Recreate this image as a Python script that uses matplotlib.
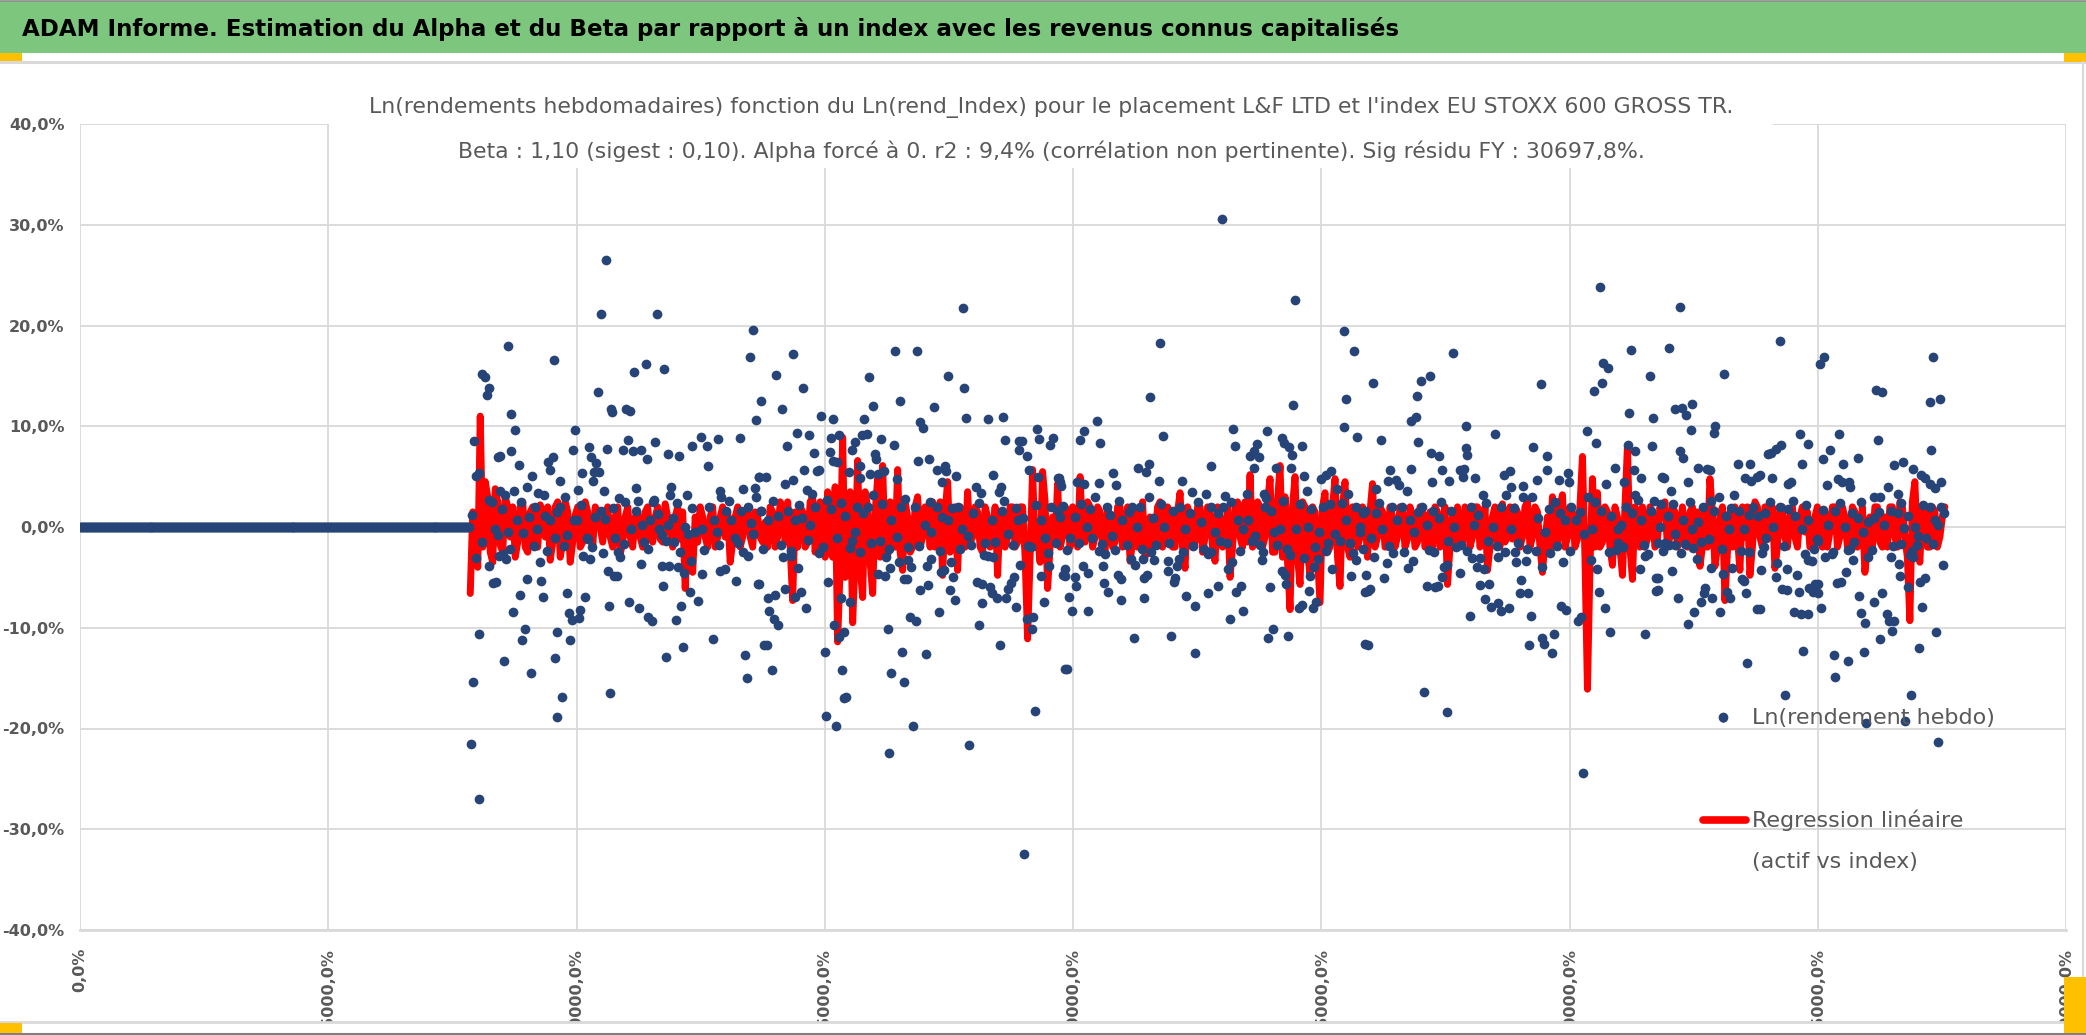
import numpy as np
import matplotlib
matplotlib.use("Agg")
import matplotlib.pyplot as plt
from matplotlib.lines import Line2D
from matplotlib.patches import Rectangle

plt.rcParams['font.family'] = ['Liberation Sans Narrow', 'DejaVu Sans Condensed', 'DejaVu Sans']

# ---------------- data ----------------
title_main = "ADAM Informe. Estimation du Alpha et du Beta par rapport à un index avec les revenus connus capitalisés"
subtitle_1 = "Ln(rendements hebdomadaires) fonction du Ln(rend_Index) pour le placement L&F LTD et l'index EU STOXX 600 GROSS TR."
subtitle_2 = "Beta : 1,10 (sigest : 0,10). Alpha forcé à 0. r2 : 9,4% (corrélation non pertinente). Sig résidu FY : 30697,8%."
legend_scatter = "Ln(rendement hebdo)"
legend_line = ["Regression linéaire", "(actif vs index)"]

# weeks before the listing: returns are zero
zero_weeks = list(range(0, 393))
zero_values = [0.0] * len(zero_weeks)

# weekly ln returns (%) : (week, value)
pts_a = [(530,26.5),(525,21.1),(581,21.1),(431,18.0),(477,16.6),(405,15.2),(408,14.9),(412,13.8),(410,13.1),
         (558,15.4),(570,16.2),(588,15.7),(678,19.6),(675,16.9),(686,12.5),(681,10.6),(522,13.4),(535,11.7),
         (536,11.4),(550,11.7),(554,11.5),(434,11.2),(438,9.6),(498,9.6),(397,8.5),(423,7.0),(421,6.9),(434,7.5),
         (442,6.2),(455,5.1),(471,6.5),(476,6.9),(473,5.7),(483,4.6),(496,7.6),(506,5.4),(513,7.9),(515,6.9),
         (520,6.4),(523,5.5),(518,5.5),(517,4.6),(531,7.7),(528,3.6),(552,8.6),(547,7.6),(557,7.5),(565,7.6),
         (571,6.7),(579,8.4),(592,7.2),(603,7.0),(616,8.0),(625,8.9),(631,8.0),(632,6.1),(643,8.7),(665,8.8),
         (684,5.0),(399,5.1),(402,5.4),(423,3.6),(428,3.2),(437,3.6),(450,4.0),(461,3.4),(467,3.2),(488,3.0),
         (502,3.7),(560,3.9),(578,2.7),(595,4.0),(594,3.2),(611,3.2),(645,3.6),(668,3.8),(680,3.9),
         (399,-3.1),(412,-3.9),(416,-5.6),(419,-5.5),(422,-2.9),(426,-2.7),(429,-3.2),(450,-5.2),(443,-6.7),
         (464,-5.4),(466,-6.9),(463,-3.5),(436,-8.4),(448,-10.1),(445,-11.2),(402,-10.6),(427,-13.3),(454,-14.5),
         (396,-15.4),(394,-21.5),(402,-27.0),(480,-10.4),(478,-13.0),(485,-16.9),(480,-18.9),(490,-6.6),(492,-8.5),
         (495,-9.2),(493,-11.2),(504,-8.2),(503,-9.0),(509,-6.9),(507,-2.9),(514,-3.2),(512,-1.2),(487,-1.9),
         (533,-7.8),(534,-16.5),(532,-4.4),(538,-4.9),(541,-4.9),(542,-2.5),(544,-3.0),(553,-7.4),(563,-8.0),
         (572,-8.9),(576,-9.3),(565,-3.7),(568,-1.5),(586,-3.9),(593,-3.9),(587,-5.9),(598,-1.5),(602,-4.0),
         (608,-4.6),(604,-2.5),(600,-9.2),(605,-7.8),(607,-11.9),(590,-12.9),(614,-6.5),(622,-7.3),(626,-4.7),
         (615,-3.4),(637,-11.1),(645,-4.4),(650,-4.2),(661,-5.4),(670,-12.7),(672,-15.0),(673,-2.9),(683,-5.7),
         (689,-11.7),
         (412,2.7),(415,2.5),(418,-0.2),(421,-0.8),(431,-0.5),(440,0.7),(446,-0.6),(452,1.0),(458,2.0),(460,-0.2),
         (468,1.1),(473,0.7),(478,-1.1),(483,2.0),(497,0.7),(500,0.7),(511,-1.1),(519,1.0),(525,1.6),(529,0.8),
         (539,-1.1),(543,2.9),(549,2.5),(555,-0.2),(560,1.6),(566,0.2),(574,0.7),(577,2.5),(583,-0.2),(586,-0.8),
         (592,0.2),(597,0.9),(609,0.0),(612,-0.7),(619,-0.5),(626,-0.2),(633,2.0),(638,0.7),(641,-0.5),(646,3.0),
         (651,1.6),(656,0.7),(660,-1.1),(663,-1.6),(666,1.6),(673,2.0),(678,-0.7),(681,3.0),(686,1.6),
         (395,1.2),(405,-1.5),(425,1.8),(433,-2.2),(444,2.5),(457,-1.9),(470,-2.4),(480,1.5),(490,-0.8),(505,2.2),
         (516,-2.0),(527,-2.6),(537,1.9),(548,-1.7),(562,2.6),(572,-2.2),(582,1.3),(590,-1.4),(601,2.4),(616,1.9),
         (628,-2.3),(644,-1.8),(654,2.6),(668,-2.5),(676,0.4),(688,-2.2)]

pts_b = [(889,21.7),(718,17.2),(821,17.5),(843,17.5),(701,15.1),(728,13.8),(795,14.9),(874,15.0),(890,13.8),
         (707,11.7),(826,12.5),(799,12.0),(860,11.9),(746,11.0),(758,10.7),(790,10.7),(846,10.4),(849,9.8),
         (892,10.8),(914,10.7),(930,10.9),(722,9.3),(734,9.1),(756,8.8),(764,9.1),(788,9.1),(793,9.2),(807,8.7),
         (820,8.1),(712,8.0),(739,7.3),(755,7.4),(758,6.6),(762,6.5),(777,7.6),(780,8.4),(801,7.2),(802,6.7),
         (844,6.6),(855,6.7),(863,5.7),(871,6.1),(872,5.6),(882,5.1),(932,8.6),(946,8.5),(949,8.5),(946,7.6),
         (954,7.0),(956,5.7),(964,9.7),(966,8.7),(977,8.1),(980,8.8),(729,5.7),(742,5.6),(744,5.7),(684,5.0),
         (691,5.0),(710,4.3),(718,4.7),(732,3.7),(737,3.3),(774,5.5),(785,6.1),(785,4.9),(796,5.3),(804,5.3),
         (810,5.6),(823,4.8),(868,4.5),(919,5.2),(927,4.0),(925,3.5),(902,4.0),(907,3.4),(965,5.0),(985,4.9),
         (987,4.5),
         (684,-5.7),(693,-7.0),(700,-6.7),(694,-8.3),(699,-9.1),(703,-9.7),(692,-11.7),(697,-14.2),(710,-6.2),
         (720,-6.9),(726,-6.5),(731,-8.0),(723,-4.1),(708,-3.0),(716,-2.9),(753,-5.5),(750,-12.4),(759,-9.7),
         (764,-10.9),(769,-10.4),(767,-14.2),(769,-17.0),(771,-16.9),(751,-18.8),(761,-19.8),(766,-7.0),
         (775,-7.4),(780,-0.5),(777,-1.4),(806,-1.4),(804,-4.7),(811,-4.9),(816,-4.1),(812,-3.0),(814,-10.1),
         (817,-14.5),(828,-12.4),(830,-15.4),(825,-3.5),(834,-3.3),(837,-4.0),(833,-5.2),(830,-5.2),(836,-8.9),
         (842,-9.3),(839,-19.8),(815,-22.4),(846,-6.3),(852,-12.6),(854,-5.8),(853,-3.9),(857,-3.2),(865,-8.4),
         (867,-4.5),(870,-4.3),(876,-6.3),(881,-7.2),(879,-5.0),(877,-3.5),(895,-21.6),(905,-9.7),(903,-5.5),
         (908,-5.7),(908,-7.5),(916,-6.0),(918,-6.6),(923,-7.0),(926,-11.7),(933,-7.0),(935,-6.2),(938,-5.6),
         (941,-5.0),(943,-7.9),(947,-3.8),(910,-2.8),(914,-2.9),(919,-3.0),(951,-32.5),(954,-9.1),(960,-8.9),
         (959,-10.1),(962,-18.3),(968,-4.9),(971,-7.4),(976,-3.9),(990,-4.8),(992,-14.1),
         (686,1.6),(693,0.7),(703,1.1),(713,1.6),(720,0.7),(727,0.9),(735,0.2),(740,2.0),(748,-2.0),(752,2.7),
         (762,-1.1),(770,1.1),(782,2.0),(789,1.4),(794,2.0),(799,3.2),(817,0.7),(827,2.0),(834,-2.0),(841,2.0),
         (851,0.2),(857,-0.5),(863,2.0),(868,1.0),(874,0.7),(884,2.0),(888,-0.2),(894,-0.9),(899,1.4),(911,-1.6),
         (918,0.7),(928,1.6),(935,-0.7),(940,-1.8),(945,0.7),(950,0.9),(958,-2.0),(968,0.7),(972,-1.1),(978,2.0),
         (983,-1.6),(987,1.0),
         (698,2.6),(706,-1.8),(716,-2.4),(724,2.2),(733,-1.3),(744,-2.6),(756,1.8),(766,2.4),(775,-2.1),(786,-2.5),
         (797,-1.6),(808,2.3),(815,-2.2),(823,-1.0),(831,2.8),(845,-1.9),(856,2.5),(866,-2.4),(878,1.9),(886,-2.2),
         (897,-1.8),(905,2.4),(921,-1.5),(931,2.6),(943,1.9),(955,-1.9),(963,2.2),(975,-2.6),(990,2.1)]

pts_c = [(1150,30.6),(1224,22.5),(1088,18.3),(1078,12.9),(1222,12.1),(1273,19.5),(1283,17.5),(1275,12.7),
         (1273,9.9),(1286,8.9),(1024,10.5),(1011,9.5),(1007,8.6),(1027,8.3),(1091,9.0),(1161,9.7),(1163,8.0),
         (1195,9.5),(1210,8.8),(1212,8.3),(1218,7.9),(1221,7.1),(1231,8.0),(1178,7.0),(1182,7.5),(1185,8.2),
         (1187,6.9),(1139,6.1),(1065,5.9),(1074,5.5),(1077,6.3),(1182,5.9),(1204,5.9),(1220,5.9),(1233,5.1),
         (1236,3.6),(1250,4.8),(1255,5.2),(1260,5.6),(1040,5.4),(1043,4.2),(1026,4.4),(1004,4.5),(1011,4.3),
         (986,4.9),(988,4.1),(1087,4.6),(1110,4.6),(1120,3.5),(1134,3.3),(1153,3.1),(1175,3.3),(1192,3.3),
         (1194,2.9),(1266,3.8),(1277,3.3),
         (994,-14.1),(999,-8.3),(1015,-8.3),(996,-6.9),(1003,-5.9),(1002,-5.0),(992,-4.9),(992,-4.2),(1015,-4.6),
         (1010,-3.9),(1030,-3.9),(1032,-2.7),(1035,-6.5),(1031,-5.6),(1045,-4.8),(1048,-5.2),(1048,-7.2),
         (1061,-11.0),(1058,-3.2),(1062,-3.8),(1071,-7.0),(1072,-5.1),(1075,-4.8),(1070,-3.2),(1082,-3.3),
         (1096,-4.4),(1096,-3.4),(1102,-5.5),(1103,-5.1),(1099,-10.8),(1105,-3.9),(1107,-3.2),(1114,-6.8),
         (1123,-12.5),(1123,-7.8),(1136,-6.6),(1146,-5.9),(1158,-9.1),(1156,-4.2),(1160,-3.5),(1136,-2.7),
         (1139,-2.5),(1164,-6.5),(1169,-5.9),(1171,-8.3),(1190,-3.3),(1196,-11.0),(1201,-10.1),(1198,-6.0),
         (1217,-10.8),(1210,-4.4),(1213,-4.8),(1215,-5.7),(1219,-2.8),(1228,-8.0),(1231,-7.7),(1233,-3.1),
         (1238,-6.4),(1239,-4.9),(1242,-8.0),(1245,-7.4),(1243,-4.0),(1247,-3.2),(1255,-2.4),(1261,-4.2),
         (1280,-4.9),(1285,-3.3),(1294,-6.5),(1294,-11.6),
         (985,1.6),(997,-1.1),(1002,1.0),(1006,-1.6),(1014,0.0),(1019,-1.1),(1022,3.0),(1029,-1.7),(1034,2.0),
         (1039,-0.9),(1042,-2.3),(1049,0.7),(1054,-1.8),(1059,2.0),(1064,0.0),(1067,2.0),(1077,3.0),(1081,0.9),
         (1084,-1.8),(1092,0.0),(1097,-1.6),(1108,2.0),(1113,-0.2),(1118,1.4),(1126,2.5),(1129,0.5),(1139,2.0),
         (1143,-0.5),(1148,-1.4),(1151,2.0),(1155,-1.6),(1166,0.7),(1171,-0.2),(1176,0.7),(1183,-0.9),(1188,-1.8),
         (1193,2.0),(1202,-0.5),(1205,-1.8),(1208,-0.2),(1225,-0.2),(1237,0.0),(1240,1.8),(1248,-0.5),(1252,2.0),
         (1259,2.3),(1264,-0.7),(1269,-1.4),(1275,0.7),(1279,-1.6),(1285,2.0),(1289,-0.5),
         (994,-2.3),(1008,2.3),(1017,1.8),(1026,-2.4),(1037,1.2),(1046,2.6),(1056,1.5),(1069,-2.2),(1079,-2.5),
         (1089,2.3),(1101,1.6),(1111,-2.5),(1121,-1.9),(1132,-2.2),(1146,1.4),(1159,2.5),(1168,-2.4),(1180,-1.4),
         (1191,-2.5),(1199,1.6),(1211,2.6),(1216,-2.2),(1229,2.3),(1244,-2.0),(1257,-1.6),(1271,2.4),(1282,-2.6),
         (1292,1.4)]

pts_d = [(1531,23.8),(1383,17.3),(1302,14.3),(1346,13.0),(1350,14.5),(1360,15.0),(1340,10.5),(1345,10.9),
         (1471,14.2),(1525,13.5),(1533,14.3),(1534,16.3),(1539,15.8),(1562,17.6),(1581,15.0),(1560,11.3),
         (1584,10.8),(1310,8.6),(1347,8.4),(1396,10.0),(1396,7.8),(1397,7.1),(1425,9.2),(1463,7.9),(1477,7.0),
         (1477,5.7),(1518,9.5),(1527,8.3),(1559,8.1),(1566,7.5),(1583,8.0),(1361,7.3),(1369,7.0),(1319,5.7),
         (1340,5.8),(1372,5.7),(1379,4.6),(1362,4.5),(1390,5.7),(1394,5.8),(1393,5.0),(1405,4.9),(1434,5.2),
         (1440,5.6),(1441,4.0),(1453,4.1),(1467,4.7),(1489,4.7),(1498,5.4),(1499,4.5),(1546,5.9),(1555,4.5),
         (1565,5.7),(1572,4.9),(1593,5.0),(1317,4.6),(1325,4.7),(1328,4.2),(1336,3.6),(1305,3.8),
         (1297,-11.7),(1297,-6.4),(1299,-6.2),(1295,-4.8),(1313,-5.1),(1316,-3.6),(1322,-2.6),(1303,-3.0),
         (1337,-4.1),(1342,-3.4),(1353,-16.4),(1377,-18.4),(1356,-5.9),(1365,-6.0),(1368,-5.9),(1364,-2.5),
         (1372,-5.0),(1374,-4.0),(1377,-3.8),(1390,-4.6),(1400,-8.8),(1410,-5.8),(1419,-5.7),(1402,-3.1),
         (1410,-3.1),(1407,-4.0),(1415,-7.1),(1421,-7.9),(1428,-7.5),(1431,-8.3),(1439,-8.0),(1414,-4.2),
         (1428,-3.0),(1435,-2.5),(1446,-3.5),(1445,-2.5),(1456,-3.4),(1451,-5.3),(1450,-6.6),(1458,-6.6),
         (1461,-8.8),(1459,-11.7),(1472,-11.0),(1474,-11.6),(1482,-12.5),(1484,-10.6),(1472,-4.0),(1480,-2.6),
         (1491,-7.8),(1496,-8.2),(1493,-3.5),(1509,-9.3),(1512,-8.9),(1514,-24.4),(1522,-3.3),(1528,-4.2),
         (1530,-6.5),(1536,-8.0),(1541,-10.4),(1547,-2.3),(1549,-1.6),(1571,-4.2),(1576,-10.6),(1587,-5.1),
         (1587,-6.4),(1576,-2.9),(1579,-2.7),
         (1289,0.0),(1294,1.6),(1300,-1.1),(1305,1.4),(1311,-0.2),(1321,2.0),(1326,0.7),(1331,2.0),(1339,0.7),
         (1343,-0.5),(1351,2.0),(1356,0.2),(1363,1.6),(1369,0.9),(1378,-1.4),(1384,0.0),(1386,-2.0),(1391,-1.8),
         (1401,2.0),(1404,0.2),(1413,3.2),(1418,-1.4),(1423,0.0),(1431,2.0),(1436,3.2),(1441,-0.2),(1448,-1.6),
         (1453,3.0),(1462,3.0),(1468,0.9),(1475,-0.5),(1485,2.5),(1490,1.4),(1495,0.7),(1502,2.0),(1507,0.7),
         (1515,-0.7),(1519,3.0),(1523,-0.2),(1532,1.6),(1537,4.3),(1542,1.1),(1549,-0.2),(1552,0.2),(1557,2.0),
         (1566,3.2),(1569,2.7),(1572,0.7),(1582,1.6),(1589,-1.6),(1592,2.3),
         (1292,-2.2),(1308,2.4),(1318,-1.9),(1333,-2.5),(1347,1.5),(1359,-2.3),(1371,2.5),(1381,1.6),(1397,-2.4),
         (1408,1.2),(1416,2.4),(1427,-1.9),(1444,1.9),(1457,-2.2),(1466,-2.4),(1479,1.8),(1487,-1.9),(1500,-2.4),
         (1511,1.5),(1526,2.5),(1540,-2.5),(1554,-2.0),(1563,1.4),(1575,-1.8),(1585,2.6)]

pts_e = [(1611,21.8),(1600,17.8),(1712,18.5),(1752,16.2),(1756,16.9),(1656,15.2),(1866,16.9),(1809,13.6),
         (1815,13.4),(1863,12.4),(1873,12.7),(1606,11.7),(1613,11.8),(1617,11.1),(1623,12.2),(1622,9.6),
         (1647,10.0),(1646,9.3),(1732,9.2),(1740,8.2),(1771,9.2),(1811,8.6),(1611,7.5),(1614,6.8),(1629,5.9),
         (1638,5.8),(1641,5.7),(1700,7.2),(1703,7.3),(1708,7.7),(1713,8.1),(1734,6.3),(1755,6.7),(1762,7.6),
         (1775,6.3),(1791,6.8),(1864,7.6),(1827,6.2),(1836,6.5),(1846,5.8),(1670,6.3),(1682,6.3),(1595,4.9),
         (1619,4.5),(1677,4.9),(1683,4.6),(1689,5.0),(1692,5.2),(1704,4.9),(1720,4.3),(1723,4.5),(1770,4.8),
         (1774,4.5),(1781,4.5),(1782,4.0),(1759,4.2),(1854,5.2),(1858,4.9),(1863,4.3),(1868,3.9),(1874,4.5),
         (1821,4.0),(1831,3.3),(1807,3.0),(1813,3.0),(1602,3.6),
         (1619,-9.6),(1625,-8.4),(1632,-7.4),(1636,-6.1),(1635,-6.6),(1609,-7.0),(1603,-4.4),(1589,-5.1),
         (1589,-6.3),(1624,-2.1),(1628,-3.2),(1643,-4.1),(1644,-7.0),(1652,-8.4),(1655,-4.7),(1659,-6.5),
         (1662,-7.0),(1664,-4.1),(1655,-18.9),(1674,-5.2),(1676,-5.4),(1678,-6.6),(1679,-13.5),(1681,-2.5),
         (1689,-8.1),(1692,-8.1),(1693,-4.3),(1696,-2.0),(1708,-5.0),(1709,-3.6),(1714,-6.2),(1719,-6.3),
         (1717,-16.7),(1719,-4.2),(1726,-8.4),(1733,-8.6),(1740,-8.6),(1729,-4.8),(1731,-6.5),(1735,-12.3),
         (1737,-2.7),(1740,-3.3),(1744,-3.4),(1741,-6.1),(1745,-6.5),(1750,-6.6),(1753,-8.0),(1747,-5.7),
         (1750,-5.7),(1749,-1.2),(1757,-3.0),(1764,-2.7),(1766,-12.7),(1767,-14.9),(1769,-5.6),(1773,-5.5),
         (1778,-4.5),(1780,-13.3),(1780,-2.3),(1787,-1.5),(1785,-3.3),(1792,-6.8),(1794,-8.5),(1798,-9.5),
         (1797,-12.4),(1801,-3.0),(1807,-7.4),(1815,-6.6),(1813,-11.1),(1820,-8.6),(1822,-9.3),(1827,-9.3),
         (1825,-10.3),(1824,-3.0),(1832,-3.7),(1833,-4.9),(1834,-1.7),(1841,-6.0),(1844,-16.7),(1843,-2.8),
         (1846,-3.0),(1852,-12.0),(1853,-5.5),(1858,-5.1),(1855,-7.9),(1850,-1.8),(1869,-10.4),(1871,-21.3),
         (1876,-3.8),(1799,-19.5),(1838,-19.3),(1600,-1.8),(1596,-1.6),(1606,-1.8),(1616,-1.7),
         (1591,0.0),(1599,1.1),(1606,-0.7),(1614,0.7),(1623,-0.2),(1629,0.5),(1634,2.0),(1640,-1.2),(1646,1.6),
         (1651,3.0),(1658,1.1),(1661,-0.2),(1666,3.2),(1671,1.6),(1676,-0.2),(1685,2.0),(1690,1.1),(1697,1.4),
         (1698,-1.1),(1705,0.0),(1712,2.0),(1720,1.8),(1727,1.1),(1734,-0.2),(1740,0.7),(1750,-1.4),(1760,0.2),
         (1767,1.6),(1777,0.0),(1784,1.4),(1791,0.9),(1796,-0.5),(1801,0.5),(1807,0.9),(1817,0.2),(1824,1.6),
         (1831,1.4),(1837,-0.1),(1841,1.1),(1848,0.0),(1851,-0.9),(1859,-1.1),(1863,2.0),(1868,0.7),(1871,0.2),
         (1874,2.0),
         (1594,-2.4),(1604,2.3),(1612,-2.6),(1621,2.5),(1632,-1.5),(1642,2.6),(1654,-2.2),(1663,1.9),(1673,-2.4),
         (1681,1.2),(1694,-2.6),(1702,2.5),(1716,-1.9),(1725,2.6),(1738,2.2),(1746,-2.2),(1755,1.7),(1765,-2.5),
         (1772,2.4),(1782,-2.2),(1794,2.5),(1805,-2.3),(1812,1.5),(1826,-1.9),(1834,2.4),(1845,-2.4),(1856,2.2),
         (1866,-1.7),(1877,1.4)]

# regression line (beta x index ln return, %), week 393 to week 1878.
# reg_* : every 5th week ; mid_* : the weeks in between
reg_a = [-6.6,-2.0,11.0,4.5,-2.5,3.8,-1.8,3.0,-1.0,-3.0,2.0,-2.0,1.5,-1.5,2.2,-1.0,-3.3,2.0,-3.0,2.5,
         -3.5,1.2,-2.0,2.5,-1.0,2.0,0.0,1.2,-1.0,1.0,-2.7,1.0,-1.0,1.0,-1.0,1.5,-1.0,1.0,-1.2,2.3,
         -0.5,1.0,-1.2,-6.1,-3.0,1.0,2.0,-1.0,1.0,-2.0,1.0,-1.0,-3.5,1.0,-2.0,1.5,-1.0,1.5,-1.0,0.5]
mid_a = [1.5,-4.0,-2.0,3.0,-3.5,2.5,-2.5,2.0,2.0,-1.5,2.5,-2.5,2.0,-2.0,1.5,2.0,-1.5,2.5,-1.5,1.5,
         -1.5,2.0,-1.5,1.5,-2.0,1.5,-1.5,2.0,-2.0,2.0,-1.5,2.0,-2.0,1.5,-2.0,2.0,-1.5,2.0,-1.5,1.0,
         -2.0,2.0,1.5,-1.0,-4.5,-1.5,1.0,-2.0,2.0,-1.0,2.0,1.5,-1.5,2.0,-1.0,2.0,-2.0,1.0,-1.5]
reg_b = [-2.0,1.5,-1.0,2.0,2.5,-7.3,-2.0,1.5,-1.5,3.0,1.0,-2.0,3.5,-3.0,-11.4,8.9,-3.0,-9.5,6.6,-7.0,
         2.0,-6.6,4.8,6.1,-3.0,1.0,5.7,-4.3,1.0,-2.0,3.0,-1.0,1.0,2.5,-1.0,-4.8,4.5,-1.5,-4.3,1.0,
         3.5,-1.0,1.5,-2.5,1.0,-1.0,-4.8,1.5,-1.0,2.0,-1.5,2.0,-11.1,5.7,-1.0,5.5,-6.1,1.0,4.3,-1.0,1.5]
mid_b = [2.0,-2.0,2.5,-1.5,-2.0,1.5,2.0,-2.0,2.5,-2.5,2.5,-3.0,-2.0,4.0,-4.0,-5.0,3.5,-3.0,-4.0,3.5,
         -3.5,1.5,-3.0,-2.5,2.5,-2.0,-2.5,2.5,-2.5,2.0,-2.0,2.0,-2.0,-2.0,2.5,1.5,-2.5,2.0,2.0,-2.0,
         -1.5,2.0,-2.0,2.0,-2.0,2.0,1.5,-2.0,2.0,-2.0,2.0,-3.0,-3.0,-2.0,-3.5,2.5,-2.0,-1.5,-2.0,2.0]
reg_c = [-2.0,1.0,5.0,-1.5,2.0,-1.0,1.5,-2.5,1.0,-1.5,2.0,-1.0,-3.4,1.5,-1.0,-3.0,1.0,-1.5,2.5,-1.0,
         1.5,-2.0,3.4,-4.1,1.0,-1.5,2.0,-1.0,1.5,-3.4,1.0,-1.5,-5.0,2.0,-1.0,2.5,5.2,-1.5,2.0,-1.0,
         4.8,-2.5,6.1,3.0,-8.2,5.0,-5.7,2.0,-4.8,1.5,-7.5,3.4,-2.0,4.8,-5.9,4.5,-3.0,1.5,-1.0,1.0]
mid_c = [2.0,-2.0,-1.0,2.5,-2.0,2.0,-2.0,2.0,-2.0,2.0,-2.0,2.0,-1.5,-2.0,2.5,-1.5,-2.0,2.0,-2.0,2.0,
         -2.0,1.5,-2.0,2.0,-2.0,2.0,-2.5,2.0,-2.0,2.0,-2.0,2.0,-2.0,2.5,-2.0,-1.5,-2.0,2.5,-2.0,2.5,
         -2.5,2.5,-3.0,-3.5,2.0,-3.0,2.5,-2.5,2.0,-3.0,2.0,-2.5,2.0,-3.0,2.0,-2.0,2.0,-2.0,2.0]
reg_d = [-3.0,4.3,-1.0,1.5,-1.5,1.0,-1.0,1.5,-1.2,1.0,-1.5,1.5,-1.0,-2.0,1.5,-1.0,-5.7,1.0,2.0,-1.5,
         1.5,-1.0,2.0,-1.0,-4.3,1.0,-1.5,2.3,-1.0,-1.2,1.5,-1.0,2.5,-1.0,1.5,-4.5,1.0,3.0,-1.5,3.2,
         -1.0,1.5,-1.2,7.0,-16.1,4.8,3.4,-1.5,1.5,-3.8,1.0,-4.8,8.0,-5.2,1.5,2.0,-1.2,1.5,-1.2,1.0]
mid_d = [1.5,-2.0,2.0,-2.0,2.0,-2.0,2.0,-2.0,2.0,-2.0,2.0,-2.0,1.5,2.0,-2.0,2.0,-2.0,-2.0,-1.5,2.0,
         -2.0,2.0,-2.0,2.0,-2.0,2.0,-2.0,-1.5,2.0,2.0,-2.0,2.0,-2.0,2.0,-2.0,-1.5,-2.0,-2.0,2.0,-2.0,
         2.0,-2.0,2.0,-3.0,-4.0,-2.0,-2.0,2.0,-2.0,2.0,-2.0,2.0,-2.0,2.0,-2.0,-2.0,2.0,-2.0,2.0]
reg_e = [2.5,-1.0,1.5,-1.0,-1.5,1.5,-2.0,-3.9,2.0,4.8,-3.9,1.0,-7.3,1.5,2.0,-4.3,-1.0,-4.8,2.5,-1.0,
         2.0,-1.0,-4.1,2.0,-1.0,1.0,-1.0,1.0,-0.5,-2.0,1.0,-1.0,1.5,-0.5,2.0,-1.0,1.0,-1.0,1.5,-1.0,
         -4.5,1.0,2.0,-1.5,1.0,2.0,-1.0,2.5,-1.0,-9.3,4.5,-3.5,2.0,-2.0,1.5,-1.0,2.0]
mid_e = [-2.0,2.0,-2.0,2.0,-2.0,2.0,1.5,-2.0,-2.0,1.5,-2.0,2.0,-2.5,-2.0,-1.0,2.0,2.0,-2.0,2.0,-2.0,
         2.0,2.0,-2.0,2.0,-2.0,2.0,-2.0,2.0,1.5,-2.0,2.0,-2.0,-2.0,2.0,-2.0,2.0,-2.0,2.0,-2.0,2.0,
         -2.0,-2.0,2.0,-2.0,-2.0,2.0,-2.0,2.0,-3.0,2.5,-2.0,2.0,-2.0,2.0,-2.0,1.0]
reg_first_week, reg_last_week = 393, 1878

x_ticks = [0, 250, 500, 750, 1000, 1250, 1500, 1750, 2000]
y_ticks = [-40, -30, -20, -10, 0, 10, 20, 30, 40]

# ---------------- figure ----------------
W, H = 2086, 1035
fig = plt.figure(figsize=(W / 100, H / 100), dpi=100)
fig.patch.set_facecolor('white')

def fx(px):
    return px / W

def fy(py):
    return 1 - py / H

ax = fig.add_axes([fx(80), fy(930), fx(2066) - fx(80), fy(124) - fy(930)])
ax.set_facecolor('none')

grid_c = '#d9d9d9'
txt_c = '#595959'
blue = '#264478'

pts = pts_a + pts_b + pts_c + pts_d + pts_e
sc_weeks = [p[0] for p in pts]
sc_vals = [p[1] for p in pts]

reg_vals = []
for main, mid in [(reg_a, mid_a), (reg_b, mid_b), (reg_c, mid_c), (reg_d, mid_d), (reg_e, mid_e)]:
    for i, v in enumerate(main):
        reg_vals.append(v)
        if i < len(main) - 1 and i < len(mid):
            reg_vals.append(mid[i])
reg_weeks = np.linspace(reg_first_week, reg_last_week, len(reg_vals))

ax.plot(reg_weeks, reg_vals, color='#ff0000', lw=5.0, solid_joinstyle='round',
        solid_capstyle='round', zorder=3)
ax.plot(zero_weeks, zero_values, 'o', color=blue, ms=7, mew=0, zorder=4)
ax.plot(sc_weeks, sc_vals, 'o', color=blue, ms=7, mew=0, zorder=4)

ax.set_xlim(x_ticks[0], x_ticks[-1])
ax.set_ylim(y_ticks[0], y_ticks[-1])
ax.set_xticks(x_ticks)
ax.set_yticks(y_ticks)
ax.set_yticklabels([f"{v:.1f}%".replace('.', ',') for v in y_ticks])
ax.set_xticklabels([f"{v * 100:.1f}%".replace('.', ',') for v in x_ticks], rotation=90)
ax.tick_params(axis='both', length=0, labelcolor=txt_c, labelsize=11.5)
ax.tick_params(axis='y', pad=11)
ax.tick_params(axis='x', pad=13)
for lab in ax.get_xticklabels() + ax.get_yticklabels():
    lab.set_fontweight('bold')
for lab in ax.get_xticklabels():
    lab.set_verticalalignment('top')
ax.grid(True, color=grid_c, lw=1.3, zorder=0)
ax.set_axisbelow(True)
for s in ['top', 'right', 'left']:
    ax.spines[s].set_visible(False)
ax.spines['bottom'].set_color(grid_c)
ax.spines['bottom'].set_linewidth(2)

# green header band
fig.add_artist(Rectangle((0, fy(53)), 1, fy(1) - fy(53), transform=fig.transFigure,
                         facecolor='#7dc67e', edgecolor='none', zorder=5))
fig.add_artist(Line2D([0, 1], [fy(0.5)] * 2, transform=fig.transFigure, color='#8c8c8c', lw=1.2, zorder=6))
fig.add_artist(Line2D([0, 1], [fy(62)] * 2, transform=fig.transFigure, color=grid_c, lw=2.2, zorder=6))
fig.add_artist(Rectangle((0, fy(61)), fx(22), fy(53) - fy(61), transform=fig.transFigure,
                         facecolor='#ffc000', edgecolor='none', zorder=7))
fig.add_artist(Rectangle((fx(2064), fy(62)), fx(22), fy(53) - fy(62), transform=fig.transFigure,
                         facecolor='#ffc000', edgecolor='none', zorder=7))
fig.text(fx(22), fy(29), title_main, ha='left', va='center', fontsize=16.6, fontweight='bold',
         color='black', zorder=8)

# chart title block (white background over plot top)
fig.add_artist(Rectangle((fx(329), fy(168)), fx(1773) - fx(329), fy(80) - fy(168), transform=fig.transFigure,
                         facecolor='white', edgecolor='none', zorder=5))
fig.text(fx(1051), fy(107), subtitle_1, ha='center', va='center', fontsize=15.8, color=txt_c, zorder=8)
fig.text(fx(1051), fy(151), subtitle_2, ha='center', va='center', fontsize=15.8, color=txt_c, zorder=8)

# legend (no frame, drawn over the plot)
fig.add_artist(Line2D([fx(1723)], [fy(718)], transform=fig.transFigure, marker='o', ms=6,
                      color=blue, mew=0, lw=0, zorder=9))
fig.text(fx(1752), fy(718), legend_scatter, ha='left', va='center', fontsize=16, color=txt_c, zorder=9)
fig.add_artist(Line2D([fx(1703), fx(1746)], [fy(820)] * 2, transform=fig.transFigure, color='#ff0000',
                      lw=5.5, solid_capstyle='round', zorder=9))
fig.text(fx(1752), fy(820), legend_line[0], ha='left', va='center', fontsize=16, color=txt_c, zorder=9)
fig.text(fx(1752), fy(862), legend_line[1], ha='left', va='center', fontsize=16, color=txt_c, zorder=9)

# bottom edge of the chart area (clips long x labels, as in the source)
fig.add_artist(Rectangle((0, 0), 1, fy(1022), transform=fig.transFigure,
                         facecolor='white', edgecolor='none', zorder=10))
fig.add_artist(Line2D([0, fx(2083)], [fy(1022)] * 2, transform=fig.transFigure, color=grid_c, lw=2, zorder=11))
fig.add_artist(Line2D([fx(2083)] * 2, [fy(62), fy(1022)], transform=fig.transFigure, color=grid_c, lw=1.5, zorder=11))
fig.add_artist(Line2D([0, 1], [fy(1033.5)] * 2, transform=fig.transFigure, color='#7f7f7f', lw=1.5, zorder=11))
fig.add_artist(Rectangle((0, fy(1033)), fx(22), fy(1023) - fy(1033), transform=fig.transFigure,
                         facecolor='#ffc000', edgecolor='none', zorder=12))
fig.add_artist(Rectangle((fx(2064), fy(1033)), fx(22), fy(977) - fy(1033), transform=fig.transFigure,
                         facecolor='#ffc000', edgecolor='none', zorder=12))

fig.savefig('out.png', dpi=100)
